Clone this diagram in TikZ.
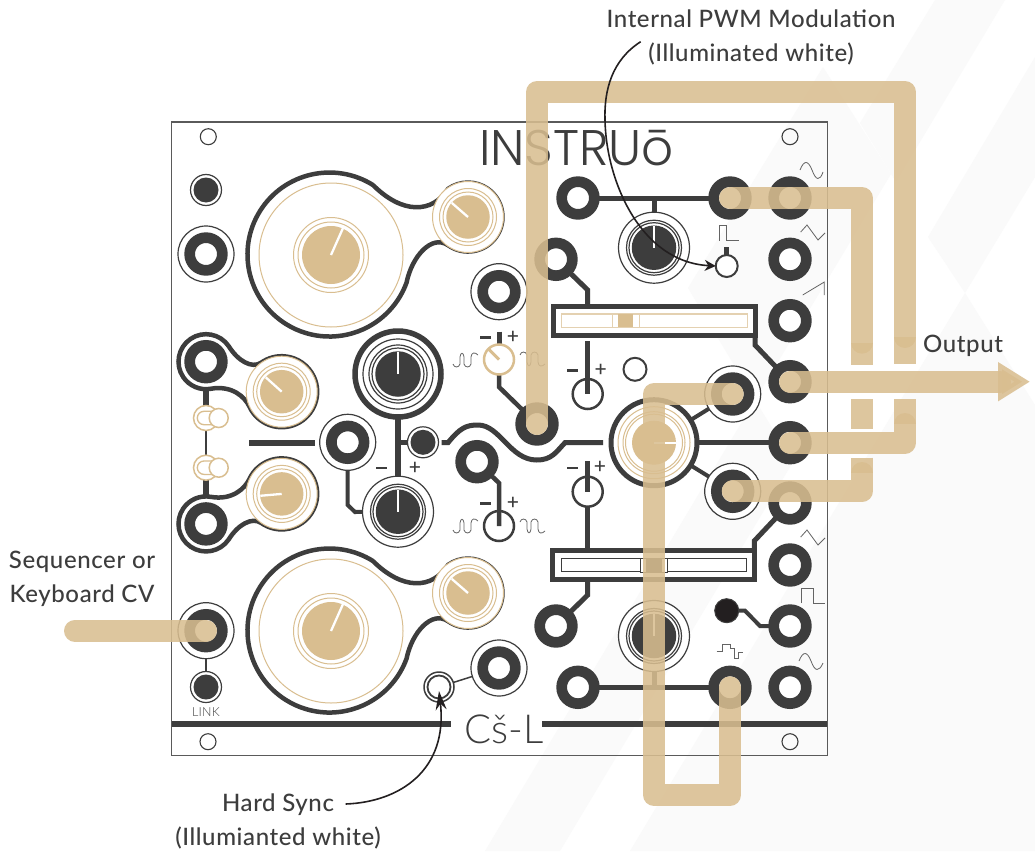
\documentclass[tikz,border=0pt]{standalone}
\usepackage{fontspec}
\setmainfont{Lato Medium}
\newfontfamily\titlefont{Poppins Light}
\newfontfamily\thinfont{Lato Light}
\usetikzlibrary{arrows.meta,backgrounds}
\definecolor{panel}{HTML}{3D3D3D}
\definecolor{beige}{HTML}{D9BE90}
\definecolor{pale}{HTML}{FAFAFA}
\definecolor{ink}{HTML}{231F20}
\tikzset{
    jack/.style={circle, draw=panel, line width=10.7pt, fill=white, minimum size=32.7pt, inner sep=0, outer sep=0},
    ring/.style={circle, draw=panel, line width=1.2pt, fill=white, minimum size=#1, inner sep=0, outer sep=0},
    bring/.style={circle, draw=beige, line width=1pt, fill=white, minimum size=#1, inner sep=0, outer sep=0},
    disc/.style={circle, fill=panel, minimum size=#1, inner sep=0, outer sep=0},
    bdisc/.style={circle, fill=beige, minimum size=#1, inner sep=0, outer sep=0},
    thick ring/.style={circle, draw=panel, line width=5pt, fill=white, minimum size=#1, inner sep=0, outer sep=0},
    atn/.style={circle, draw=#1, line width=2.5pt, minimum size=30pt, inner sep=0, outer sep=0},
    sld/.style={rectangle, draw=panel, line width=5pt, fill=white, minimum width=201.5pt, minimum height=28.5pt, inner sep=0, outer sep=0},
    track/.style={rectangle, draw=#1, line width=1.2pt, fill=white, minimum width=185.5pt, minimum height=13.3pt, inner sep=0, outer sep=0},
    toggle/.style={circle, draw=beige, line width=1.5pt, minimum size=#1, inner sep=0, outer sep=0},
    screw/.style={circle, draw=panel, line width=1.1pt, minimum size=#1, inner sep=0, outer sep=0},
    wire/.style={draw=panel, line width=#1},
    wire/.default=5pt,
    blob/.style={draw=panel, line width=4.5pt},
    hand/.style={draw=white, line width=2.3pt},
    wave/.style={draw=panel!80, line width=.8pt},
    band/.style={draw=beige, line width=22pt, opacity=.87, line cap=round, line join=round},
    patch/.style={draw=beige, line width=22pt, opacity=.87},
    callout/.style={draw=ink, line width=1.6pt},
    lbl/.style={text=panel, font=\fontsize{24}{34}\selectfont\addfontfeatures{LetterSpace=2.5}, align=center, inner sep=0},
    sign/.style={text=panel, font=\fontsize{21}{21}\selectfont, inner sep=0},
}
\newcommand{\pulsepath}{(0,3) .. controls (1,-1) and (6,-1) .. (7,3) -- (7,10) .. controls (7.5,15) and (10.5,15) .. (11,10) -- (11,3) .. controls (12,-1) and (17,-1) .. (18,3) -- (18,10) .. controls (18.5,15) and (22,15) .. (25,12)}
\begin{document}
\begin{tikzpicture}[x=1pt, y=1pt]
    \useasboundingbox (0,0) rectangle (1035,-851);
    % pale stripes behind everything
    \begin{scope}[on background layer]
        \fill[white] (0,0) rectangle (1035,-851);
        \fill[pale] (688,-288) -- (823,-67) -- (891,-174) -- (755,-400) -- cycle;
        \fill[pale] (935,0) -- (1005,0) -- (896,-182) -- (860,-123) -- cycle;
        \fill[pale] (1035,-57) -- (928,-237) -- (965,-293) -- (1035,-177) -- cycle;
        \fill[pale] (630,-851) -- (965,-293) -- (1035,-405) -- (1035,-851) -- cycle;
        \fill[pale] (485,-851) -- (755,-400) -- (793,-462) -- (560,-851) -- cycle;
    \end{scope}

    \node[rectangle, draw=panel!85, line width=1.2pt, minimum width=656pt, minimum height=633.7pt, inner sep=0, outer sep=0] (front) at (499.85,-438.85) {};

    % outlines round the oscillators and the two left sections
    \foreach \yy in {0,-376} \draw[blob, yshift=\yy pt] (372.95,-185) arc[start angle=58, end angle=340, radius=82pt] .. controls (412,-256) and (432,-234) .. (448.2,-245.3) arc[start angle=235, end angle=485, radius=34.5pt] .. controls (432,-214) and (402,-214) .. (372.95,-185);
    \foreach \ys/\yo in {1/0, -1/-885.6} \draw[blob, yshift=\yo pt, yscale=\ys] (249.5,-406.7) arc[start angle=205, end angle=485, radius=35.5pt] .. controls (252,-369) and (238,-361) .. (228.8,-346.3) arc[start angle=34, end angle=280, radius=27.5pt] .. controls (232,-385) and (245,-397) .. (249.5,-406.7);

    % screws
    \foreach \nm/\x/\y in {sa/208.3/-136.7, sb/790/-136.7, sc/208/-741.7, sd/790/-741.7} \node[screw=16pt] (\nm) at (\x,\y) {};
    \node[screw=23pt, line width=2pt] (ledc) at (635,-369.3) {};

    % beige knobs
    \foreach \nm/\x/\y in {oscA/331/-255, oscB/331/-631} {
        \node[bring=144pt] (\nm-o) at (\x,\y) {};
        \node[bring=75pt] (\nm-a) at (\x,\y) {};
        \node[bring=66pt] (\nm-b) at (\x,\y) {};
        \node[bdisc=58pt] (\nm) at (\x,\y) {};
        \draw[hand] (\nm.center) -- ++(66:29.5pt);
    }
    \foreach \nm/\x/\y/\ang in {fmA/468/-217/139, fmB/468/-593/139, lfA/281.7/-391.7/138, lfB/281.7/-493.9/185} {
        \node[bring=71pt] (\nm-o) at (\x,\y) {};
        \node[bring=57pt] (\nm-a) at (\x,\y) {};
        \node[bring=50pt] (\nm-b) at (\x,\y) {};
        \node[bdisc=43.5pt] (\nm) at (\x,\y) {};
        \draw[hand] (\nm.center) -- ++(\ang:21.5pt);
    }
    \node[thick ring=86pt] (mix-o) at (654,-442.7) {};
    \node[bring=72pt] (mix-a) at (654,-442.7) {};
    \node[bring=62pt] (mix-b) at (654,-442.7) {};
    \node[bring=57pt] (mix-c) at (654,-442.7) {};
    \node[bdisc=44pt] (mix) at (654,-442.7) {};
    \draw[hand] (mix.center) -- ++(0:22pt);

    % dark knobs
    \node[thick ring=86pt, line width=5.5pt] (pm-o) at (398,-374) {};
    \node[ring=70pt] (pm-a) at (398,-374) {};
    \node[ring=58pt] (pm-b) at (398,-374) {};
    \node[ring=52pt] (pm-c) at (398,-374) {};
    \node[disc=45.5pt] (pm) at (398,-374) {};
    \draw[hand] (pm.center) -- ++(90:22.5pt);
    \foreach \nm/\x/\y in {lvl/398/-511.7, pwA/654/-247.7, pwB/654/-636} {
        \node[ring=71pt] (\nm-o) at (\x,\y) {};
        \node[ring=55pt] (\nm-a) at (\x,\y) {};
        \node[ring=50pt] (\nm-b) at (\x,\y) {};
        \node[disc=44.5pt] (\nm) at (\x,\y) {};
        \draw[hand] (\nm.center) -- ++(90:22pt);
    }

    % jacks
    \foreach \nm/\y in {ra/-198, rb/-259.3, rc/-320.7, rd/-381.7, re/-442.7, rf/-503, rg/-565, rh/-626, ri/-687.3} \node[jack] (\nm) at (790,\y) {};
    \foreach \nm/\x/\y in {ta/578/-198, tb/730/-198, pa/556/-259.3, ba/578/-687.3, bb/730/-687.3, ca/556/-626, lu/206/-361.7, ll/206/-523.9, sy/477/-461.7, ph/537/-424} \node[jack] (\nm) at (\x,\y) {};
    \foreach \nm/\x/\y in {cv/206/-254, cw/499/-291.7, cl/347.7/-442.3, ou/732.7/-394, od/732.7/-491.3, kb/206/-630.7, hs/499/-668} {
        \node[ring=56pt] (\nm-o) at (\x,\y) {};
        \node[jack] (\nm) at (\x,\y) {};
    }
    \foreach \nm/\x/\y in {ka/206/-190, kc/206/-687, kd/423/-442.3} {
        \node[ring=31pt] (\nm-o) at (\x,\y) {};
        \node[disc=25pt] (\nm) at (\x,\y) {};
    }
    \node[ring=30pt, line width=1.5pt] (sync-o) at (439,-687) {};
    \node[ring=23pt, line width=1.8pt] (sync) at (439,-687) {};
    \node[circle, draw=panel, line width=1pt, fill=ink, minimum size=24pt, inner sep=0, outer sep=0] (kn) at (726.7,-610.7) {};
    \node[circle, draw=panel, line width=2pt, fill=white, minimum size=22pt, inner sep=0, outer sep=0] (pwled) at (726.7,-266) {};

    % attenuators
    \node[atn=beige] (atA) at (499,-359.5) {};
    \node[atn=panel] (atB) at (499,-526) {};
    \node[atn=panel] (atC) at (587.7,-394) {};
    \node[atn=panel] (atD) at (587.7,-491.7) {};
    \draw[draw=beige, line width=3pt] (atA.center) -- ++(135:14pt);
    \foreach \nm/\xm/\xp/\y in {mA/485.7/513/-337.5, mB/485.5/513/-503.5, mC/572.5/600.7/-370.5, mD/572.5/600/-467.7, mE/381.5/415/-468} {
        \node[sign] (\nm-m) at (\xm,\y) {\rule{10.5pt}{2.2pt}};
        \node[sign] (\nm-p) at (\xp,\y) {+};
    }

    % sliders
    \node[sld] (sldA) at (654.25,-320.75) {};
    \node[track=beige!70] (trA) at (654.5,-320.65) {};
    \node[rectangle, draw=beige!70, line width=1.1pt, fill=white, minimum width=26.6pt, minimum height=13.3pt, inner sep=0, outer sep=0] (hdA) at (626,-320.65) {};
    \node[rectangle, fill=beige, minimum width=15.3pt, minimum height=13.3pt, inner sep=0, outer sep=0] (hdAk) at (625.7,-320.65) {};
    \node[sld] (sldB) at (653.7,-565) {};
    \node[track=panel] (trB) at (654,-565.2) {};
    \node[rectangle, draw=panel, line width=1.1pt, fill=white, minimum width=26.6pt, minimum height=13.7pt, inner sep=0, outer sep=0] (hdB) at (654,-565.2) {};
    \node[rectangle, fill=panel, minimum width=15.7pt, minimum height=13.7pt, inner sep=0, outer sep=0] (hdBk) at (653.8,-565.2) {};

    % toggles
    \foreach \nm/\y in {tgA/-418, tgB/-467.7} {
        \node[toggle=25pt] (\nm) at (206,\y) {};
        \draw[draw=beige, line width=1.3pt] (218,\y+6.7) -- (204,\y+6.7) arc[start angle=90, end angle=270, radius=6.7pt] -- (218,\y-6.7);
        \node[toggle=19pt, fill=white] (\nm-h) at (218.7,\y) {};
    }

    % texts on the panel
    \node[anchor=base west, text=panel, inner sep=0, font=\fontsize{50}{50}\titlefont] (title) at (479,-165) {INSTRUō};
    \node[anchor=base west, text=panel, inner sep=0, font=\fontsize{40}{40}\thinfont] (model) at (464,-743) {Cš-L};
    \node[text=panel, inner sep=0, font=\fontsize{12.5}{12.5}\thinfont\addfontfeatures{LetterSpace=2}] (link) at (206,-712) {LINK};

    % free ends of the wires
    \coordinate (ruleA) at (451,-724.3);
    \coordinate (ruleB) at (542,-724.3);
    \coordinate (barA) at (249,-442.7);
    \coordinate (barB) at (315,-442.7);
    \coordinate (wavA) at (441.7,-442.7);
    \coordinate (wavB) at (603,-442.7);
    \coordinate (stA) at (499,-331.7);
    \coordinate (stC) at (587.7,-341);
    \coordinate (stD) at (587.7,-461);
    \coordinate (stL) at (726.7,-247);

    \begin{scope}[on background layer]
        \draw[wire] (ta.center) -- (tb.center);
        \draw[wire] (ba.center) -- (bb.center);
        \draw[wire] (pwA.center) -- (pwA |- ta);
        \draw[wire] (pwB.center) -- (pwB |- ba);
        \draw[wire] (pa.center) -- (587.7,-290) -- (sldA.north -| atC);
        \draw[wire] (sldA.south east) -- ++(0,-10) -- (rd.center);
        \draw[wire] (sldB.north east) -- ++(0,10) -- (rf.center);
        \draw[wire] (sldB.south -| atD) -- (587.7,-595) -- (ca.center);
        \draw[wire] (stC) -- (atC.center);
        \draw[wire] (stD) -- (atD.center);
        \draw[wire] (atD.south) -- (sldB.north -| atD);
        \draw[wire] (stA) -- (atA.north);
        \draw[wire=4.5pt] (atA.south) -- (499,-387) -- (ph.center);
        \draw[wire=4.5pt] (sy.center) -- (499,-483) -- (atB.center);
        \draw[wire] (stL) -- (pwled.north);
        \draw[wire=4pt] (mix.center) -- (ou.center);
        \draw[wire=4pt] (mix.center) -- (od.center);
        \draw[wire=5pt] (mix.center) -- (re.center);
        \draw[wire=5pt] (wavA) -- (448,-442.7) .. controls (460,-428) and (466,-425) .. (478,-425) .. controls (500,-425) and (510,-460) .. (536.7,-460) .. controls (552,-460) and (556,-452) .. (565,-442.7) -- (wavB);
        \draw[wire=5.5pt] (pm.center) -- (lvl.center);
        \draw[wire=5pt] (kd.center) -- (kd -| pm);
        \draw[wire=4pt] (cl.center) -- (347.7,-505) -- (355,-512) -- (lvl.center);
        \draw[wire=6pt] (barA) -- (barB);
        \draw[wire=6.5pt] (206,-390) -- (tgA.north);
        \draw[wire=2pt] (tgA.south) -- (tgB.north);
        \draw[wire=6.5pt] (tgB.south) -- (206,-497);
        \draw[wire=2pt] (kb.center) -- (kc.center);
        \draw[wire=1.5pt] (sync.center) -- (hs.center);
        \draw[wire=4pt] (kn.center) -- (745,-610.7) -- (760,-626) -- (rh.center);
        \draw[wire=6pt] (front.west |- ruleA) -- (ruleA);
        \draw[wire=6pt] (ruleB) -- (front.east |- ruleB);
        % wave marks
        \draw[wave] (800,-170) .. controls (804,-160) and (808,-160) .. (812,-170) .. controls (816,-181) and (820,-181) .. (823,-172);
        \draw[wave] (800.7,-232) -- (807,-225) -- (818,-240) -- (825,-233);
        \draw[wave] (802.7,-295) -- (824.3,-282) -- (824.3,-295);
        \draw[wave] (800.7,-537) -- (807,-530) -- (818,-545) -- (825,-538);
        \draw[wave] (801.7,-603) -- (801.7,-588) -- (813,-588) -- (813,-603) -- (825,-603);
        \draw[wave] (799,-661) .. controls (803,-651) and (807,-651) .. (811,-661) .. controls (815,-672) and (819,-672) .. (823,-663);
        \draw[wave] (719,-240.7) -- (719,-225.7) -- (726.5,-225.7) -- (726.5,-240.7) -- (739,-240.7);
        \draw[wave] (716.7,-651) -- (722,-651) -- (722,-644) -- (730,-644) -- (730,-648) -- (734,-648) -- (734,-658) -- (738,-658) -- (738,-652) -- (742.7,-652);
        \draw[wave, shift={(453,-367)}] \pulsepath;
        \draw[wave, shift={(453,-533)}] \pulsepath;
        \draw[wave, shift={(520,-352)}, yscale=-1] \pulsepath;
        \draw[wave, shift={(520,-519)}, yscale=-1] \pulsepath;
    \end{scope}

    % signal paths laid over the panel
    \coordinate (cvend) at (75,-630.7);
    \coordinate (outend) at (1030,-381.7);
    \draw[band] (ph.center) -- (537,-92) -- (905,-92) -- (905,-337);
    \draw[patch] (905,-337) -- (905,-363.7);
    \draw[band] (tb.center) -- (862,-198) -- (862,-342.7);
    \draw[patch] (862,-342.7) -- (862,-365.3);
    \draw[band, -{Triangle[length=32pt, width=37pt]}] (rd.center) -- (outend);
    \draw[patch] (862,-399) -- (862,-429);
    \draw[patch] (905,-399) -- (905,-424);
    \draw[band] (re.center) -- (905,-442.7) -- (905,-424);
    \draw[patch] (862,-457.7) -- (862,-473);
    \draw[band] (od.center) -- (862,-491.3) -- (862,-473);
    \draw[band] (ou.center) -- (654,-394) -- (654,-795) -- (730,-795) -- (bb.center);
    \draw[band] (cvend) -- (kb.center);

    % labels and the two pointers
    \node[lbl] (pwmlabel) at (751,-37) {Internal PWM Modulation\\(Illuminated white)};
    \node[lbl, anchor=west] (outlabel) at (923,-346) {Output};
    \node[lbl] (cvlabel) at (82,-578.5) {Sequencer or\\Keyboard CV};
    \node[lbl] (synclabel) at (278,-821) {Hard Sync\\(Illumianted white)};
    \draw[callout, -{Stealth[length=11pt, width=11pt]}] (640.7,-41.7) .. controls (612,-60) and (604,-90) .. (605,-120) .. controls (606,-180) and (640,-262) .. (pwled.west);
    \draw[callout, -{Stealth[length=19pt, width=11pt]}] (345.7,-804) .. controls (400,-802) and (448,-770) .. ([yshift=-4pt]sync.center);
\end{tikzpicture}
\end{document}
